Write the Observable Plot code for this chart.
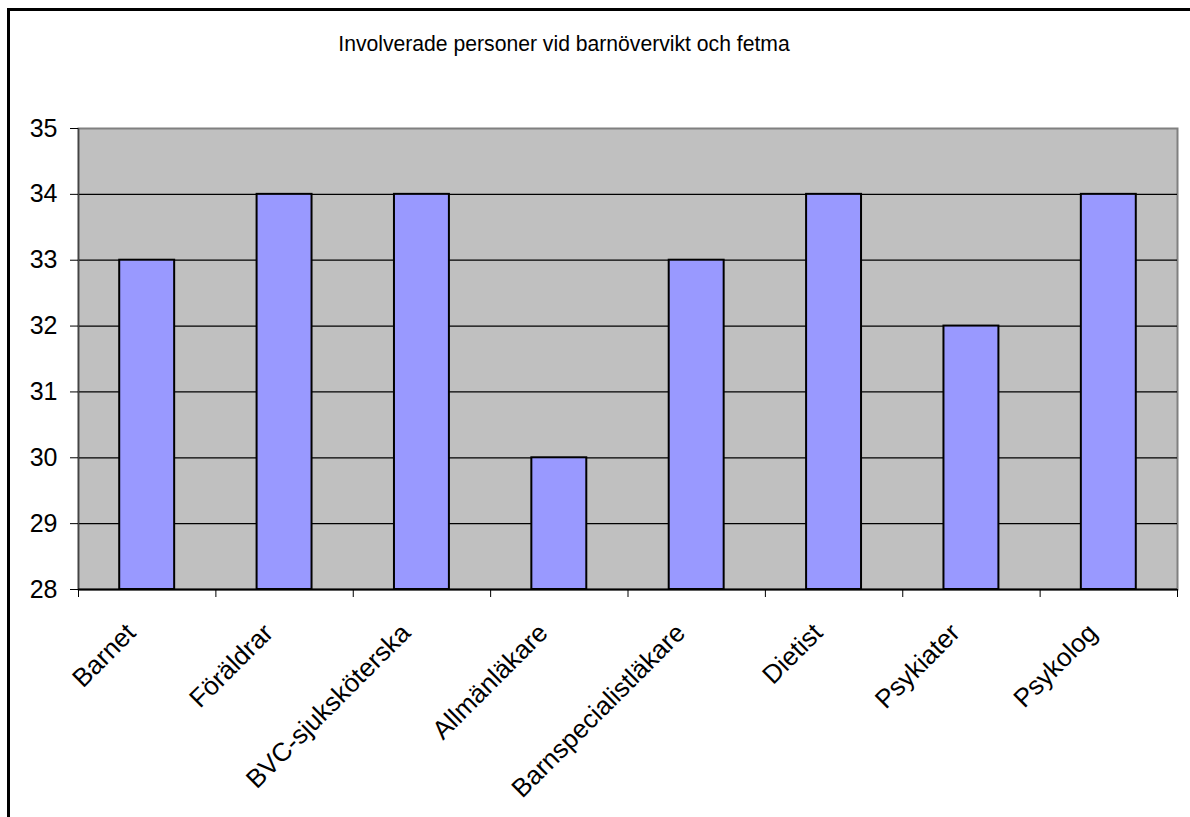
<!DOCTYPE html>
<html>
<head>
<meta charset="utf-8">
<script src="https://cdn.jsdelivr.net/npm/d3@7"></script>
<script src="https://cdn.jsdelivr.net/npm/@observablehq/plot@0.6"></script>
<style>
  html, body { margin: 0; padding: 0; background: #fff; overflow: hidden; }
  body { width: 1190px; height: 817px; position: relative; font-family: "Liberation Sans", Arial, sans-serif; }
  #box { position: absolute; left: 7px; top: 8px; width: 1200px; height: 900px; border: 3px solid #000; box-sizing: border-box; }
  #title { position: absolute; left: 0; width: 1128px; top: 31px; text-align: center; font-size: 22.5px; color: #000; white-space: nowrap; transform: scaleX(0.94); transform-origin: 564px 0; }
  #chart { position: absolute; left: 0; top: 0; }
</style>
</head>
<body>
<div id="box"></div>
<div id="title">Involverade personer vid barnövervikt och fetma</div>
<div id="chart"></div>
<script>
// Number of people involved, per role
const categories = ["Barnet", "Föräldrar", "BVC-sjuksköterska", "Allmänläkare", "Barnspecialistläkare", "Dietist", "Psykiater", "Psykolog"];
const values = [33, 34, 34, 30, 33, 34, 32, 34];
const yTicks = [28, 29, 30, 31, 32, 33, 34, 35];

const data = categories.map((name, i) => ({name, value: values[i], i}));

const chart = Plot.plot({
  width: 1190,
  height: 817,
  marginLeft: 78,
  marginRight: 13,
  marginTop: 128,
  marginBottom: 228,
  style: {fontFamily: "'Liberation Sans', Arial, sans-serif", color: "#000", background: "transparent", overflow: "visible"},
  x: {type: "linear", domain: [0, categories.length], axis: null},
  y: {domain: [28, 35], axis: null},
  marks: [
    // grey plot area
    Plot.frame({fill: "#C0C0C0", stroke: "#808080", strokeWidth: 2}),
    // horizontal gridlines
    Plot.ruleY(yTicks.filter(t => t > 28 && t < 35), {stroke: "#000", strokeWidth: 1.2}),
    // bars, one per category slot
    Plot.rect(data, {
      x1: d => d.i + 0.3,
      x2: d => d.i + 0.7,
      y1: 28,
      y2: "value",
      fill: "#9999FF",
      stroke: "#000",
      strokeWidth: 2
    }),
    // axis lines
    Plot.ruleX([0], {stroke: "#444", strokeWidth: 1.5}),
    Plot.ruleY([28], {stroke: "#000", strokeWidth: 2}),
    // category boundary ticks
    Plot.axisX({ticks: d3.range(categories.length + 1), tickSize: 8, tickFormat: () => "", label: null, stroke: "#000"}),
    // value axis
    Plot.axisY({ticks: yTicks, tickSize: 8, tickPadding: 13, fontSize: 25, label: null, tickFormat: d => String(d)}),
    // rotated category labels
    Plot.text(data, {
      x: d => d.i + 0.5,
      text: "name",
      frameAnchor: "bottom",
      rotate: -45,
      textAnchor: "end",
      lineAnchor: "bottom",
      dx: -10,
      dy: 45,
      fontSize: 26,
      fill: "#000"
    })
  ]
});

document.getElementById("chart").appendChild(chart);
</script>
</body>
</html>
